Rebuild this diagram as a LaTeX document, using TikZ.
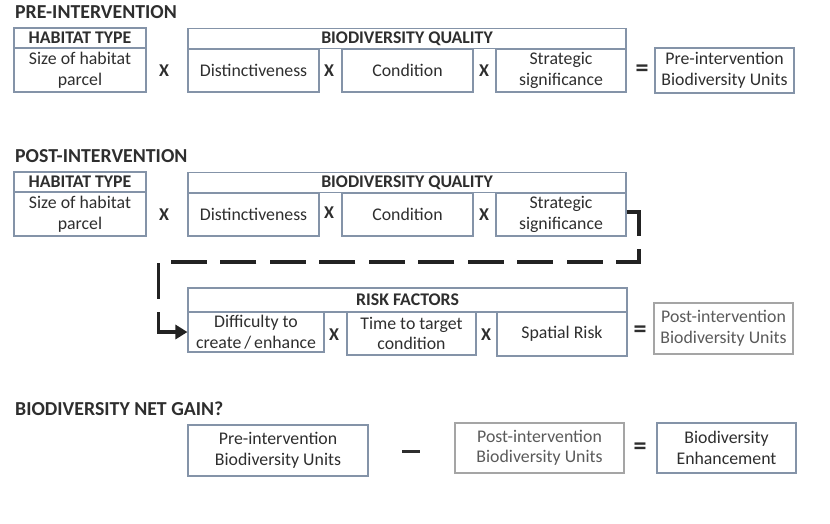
\documentclass[tikz,border=0pt]{standalone}
\usepackage{fontspec}
\setmainfont{Carlito}
\usetikzlibrary{arrows.meta}
\definecolor{txt}{HTML}{2E2E2E}
\definecolor{txtlight}{HTML}{5A5A5A}
\definecolor{edge}{HTML}{8493A8}
\definecolor{edgelight}{HTML}{A5A5A5}
\definecolor{flow}{HTML}{222222}
\tikzset{
  box/.style={draw=edge, line width=1.1pt, inner sep=0pt, align=center, text=txt,
    font=\fontsize{17.8}{20.5}\selectfont},
  lightbox/.style={box, draw=edgelight, text=txtlight},
  hdr/.style={box, font=\fontsize{17.8}{20}\selectfont\bfseries},
  op/.style={inner sep=0pt, text=txt, font=\fontsize{18}{20}\selectfont\bfseries},
  eqop/.style={inner sep=0pt, text=txt, font=\fontsize{26}{26}\selectfont\bfseries},
  sectitle/.style={anchor=base west, inner sep=0pt, text=txt, font=\fontsize{19.8}{22}\selectfont\bfseries},
  flowline/.style={draw=flow, line width=3.3pt, dash pattern=on 36pt off 13.45pt},
  flowarrow/.style={draw=flow, line width=3.3pt, -{Triangle[length=12pt,width=14pt]}}
}
\begin{document}
\begin{tikzpicture}[x=1pt,y=-1pt]
\useasboundingbox (0,0) rectangle (830,523);
% ---------- PRE-INTERVENTION ----------
\node[sectitle] (t1) at (15,18.5) {PRE-INTERVENTION};
\node[hdr, minimum width=132pt, minimum height=20pt] (hab1h) at (80,38) {HABITAT TYPE};
\node[box, minimum width=132pt, minimum height=44pt] (hab1) at (80,70) {Size of habitat\\parcel};
\node[op] (x1a) at (164,71) {X};
\node[hdr, minimum width=438pt, minimum height=20pt] (bq1h) at (407,38.5) {BIODIVERSITY QUALITY};
\node[box, minimum width=131pt, minimum height=43pt] (dist1) at (253.5,70.5) {Distinctiveness};
\node[op] (x1b) at (329,71) {X};
\node[box, minimum width=131pt, minimum height=43pt] (cond1) at (407.5,70.5) {Condition};
\node[op] (x1c) at (484,71) {X};
\node[box, minimum width=130pt, minimum height=43pt] (strat1) at (561,70.5) {Strategic\\significance};
\node[eqop] (eq1) at (642,70.5) {=};
\node[box, minimum width=139pt, minimum height=45pt] (pre1) at (724.5,70.5) {Pre-intervention\\Biodiversity Units};
% ---------- POST-INTERVENTION ----------
\node[sectitle] (t2) at (15,162.5) {POST-INTERVENTION};
\node[hdr, minimum width=132pt, minimum height=20pt] (hab2h) at (80,182) {HABITAT TYPE};
\node[box, minimum width=132pt, minimum height=44pt] (hab2) at (80,214) {Size of habitat\\parcel};
\node[op] (x2a) at (164,215) {X};
\node[hdr, minimum width=438pt, minimum height=20pt] (bq2h) at (407,182.5) {BIODIVERSITY QUALITY};
\node[box, minimum width=131pt, minimum height=43pt] (dist2) at (253.5,214.5) {Distinctiveness};
\node[op] (x2b) at (329,213) {X};
\node[box, minimum width=131pt, minimum height=43pt] (cond2) at (407.5,214.5) {Condition};
\node[op] (x2c) at (484,215) {X};
\node[box, minimum width=130pt, minimum height=43pt] (strat2) at (561,214.5) {Strategic\\significance};
% ---------- RISK FACTORS ----------
\node[hdr, minimum width=439pt, minimum height=24pt] (rfh) at (407.5,300) {RISK FACTORS};
\node[box, minimum width=136pt, minimum height=40pt] (diff) at (256,332) {Difficulty to\\create\,/\,enhance};
\node[op] (x3a) at (334,335) {X};
\node[box, minimum width=129pt, minimum height=43pt] (time) at (411.5,333.5) {Time to target\\condition};
\node[op] (x3b) at (486,335) {X};
\node[box, minimum width=130pt, minimum height=44pt] (spat) at (562,334) {Spatial Risk};
\node[eqop] (eq3) at (640,332) {=};
\node[lightbox, minimum width=139pt, minimum height=51pt] (post3) at (723.5,328.5) {Post-intervention\\Biodiversity Units};
% dashed connector
\coordinate (c1) at (639,212);
\coordinate (c2) at (639,262);
\coordinate (c3) at (158.5,262);
\coordinate (c4) at (158.5,312);
\draw[flowline] (strat2.east |- c1) -- (c1) -- (c2) -- (c3) -- (c4);
\draw[flowarrow] (c4) |- (diff.west);
% ---------- BIODIVERSITY NET GAIN ----------
\node[sectitle] (t3) at (15,415.5) {BIODIVERSITY NET GAIN?};
\node[box, minimum width=180pt, minimum height=51pt] (pre4) at (278,450.5) {Pre-intervention\\Biodiversity Units};
\node[inner sep=0pt, text=txt] (minus) at (411,451.5) {\rule{18pt}{3.2pt}};
\node[lightbox, minimum width=169pt, minimum height=50pt] (post4) at (539.5,448) {Post-intervention\\Biodiversity Units};
\node[eqop] (eq4) at (640,449) {=};
\node[box, minimum width=139pt, minimum height=50pt] (enh) at (726.5,448) {Biodiversity\\Enhancement};
\end{tikzpicture}
\end{document}
